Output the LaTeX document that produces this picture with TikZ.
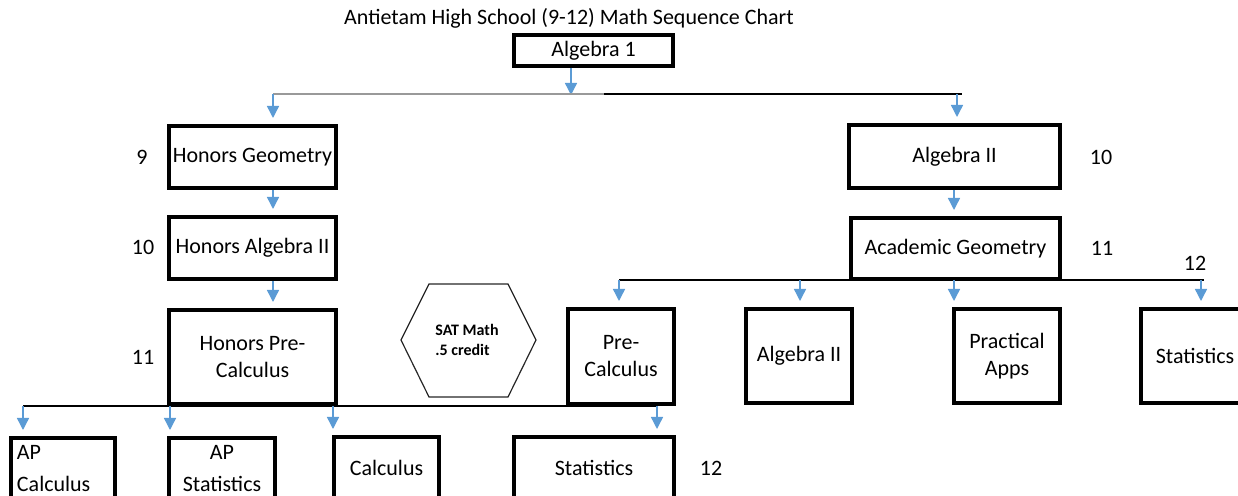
\documentclass[tikz,border=0pt]{standalone}
\usepackage{fontspec}
\setmainfont{Carlito}
\usetikzlibrary{arrows.meta}
\definecolor{arrblue}{HTML}{5B9BD5}
\begin{document}
\begin{tikzpicture}[x=0.5pt,y=-0.5pt,
  box/.style={draw,line width=2pt,inner sep=0pt,align=center,font=\fontsize{11}{13.5}\selectfont},
  lbl/.style={font=\fontsize{11}{13.5}\selectfont,inner sep=0pt},
  arr/.style={draw=arrblue,line width=0.7pt,-{Triangle[width=6pt,length=6pt]},shorten >=3pt},
  bus/.style={draw=black,line width=0.6pt}]
\useasboundingbox (0,0) rectangle (1238,496);

% title
\node[lbl] (title) at (569,18) {Antietam High School (9-12) Math Sequence Chart};

% boxes
\node[box,minimum width=79.5pt,minimum height=15.5pt] (alg1) at (593.5,50.5) {Algebra 1};
\node[box,minimum width=83.5pt,minimum height=31pt] (hg) at (252.5,157) {Honors Geometry};
\node[box,minimum width=83.5pt,minimum height=31pt] (hag) at (252.5,248) {Honors Algebra II};
\node[box,minimum width=83.5pt,minimum height=47pt] (hpc) at (252.5,357) {Honors Pre-\\Calculus};
\node[box,minimum width=105.5pt,minimum height=31.5pt] (alg2) at (954.5,156.5) {Algebra II};
\node[box,minimum width=104.5pt,minimum height=30.5pt] (ag) at (955.5,248.5) {Academic Geometry};
\node[box,minimum width=53pt,minimum height=47.5pt] (pc) at (621,356.5) {Pre-\\Calculus};
\node[box,minimum width=53pt,minimum height=47pt] (alg2b) at (799,356) {Algebra II};
\node[box,minimum width=53pt,minimum height=47pt] (pa) at (1007,356) {Practical\\Apps};
\node[box,minimum width=54pt,minimum height=47pt] (statR) at (1195,356) {Statistics};
\node[box,font=\fontsize{11}{16}\selectfont,align=left,text width=46pt,inner xsep=3pt,minimum height=31pt] (apc) at (63,469) {AP\\Calculus};
\node[box,font=\fontsize{11}{16}\selectfont,minimum width=53pt,minimum height=31pt] (aps) at (222,469) {AP\\Statistics};
\node[box,minimum width=52.5pt,minimum height=31pt] (calc) at (386.5,468) {Calculus};
\node[box,minimum width=80pt,minimum height=31pt] (statB) at (594,468) {Statistics};

% SAT hexagon
\draw[line width=0.6pt,draw=black!85] (401,340) -- (429,284) -- (508,284) -- (536,340) -- (508,397) -- (429,397) -- cycle;
\node[font=\bfseries\fontsize{8}{10}\selectfont,align=left,inner sep=0pt] (sat) at (467,340) {SAT Math\\.5 credit};

% grade labels
\node[lbl] (g9) at (142,157) {9};
\node[lbl] (g10a) at (143,247) {10};
\node[lbl] (g11a) at (143,357) {11};
\node[lbl] (g10b) at (1101,157) {10};
\node[lbl] (g11b) at (1102,248) {11};
\node[lbl] (g12a) at (1195,263) {12};
\node[lbl] (g12b) at (711,468) {12};

% connectors from Algebra 1
\coordinate (j0) at (571,95);
\coordinate (jL) at (273,94);
\coordinate (jR) at (957,94);
\coordinate (jM) at (604,94);
\coordinate (jE) at (962,94);
\draw[arr,shorten >=0pt] (alg1.south -| j0) -- (j0);
\draw[line width=0.9pt,draw=black!40] (jL) -- (jM);
\draw[bus] (jM) -- (jE);
\draw[arr] (jL) -- (hg.north -| jL);
\draw[arr] (jR) -- (alg2.north -| jR);

% left column
\coordinate (cL) at (273,0);
\draw[arr] (hg.south -| cL) -- (hag.north -| cL);
\draw[arr] (hag.south -| cL) -- (hpc.north -| cL);

% right column
\coordinate (cR) at (954,0);
\draw[arr] (alg2.south -| cR) -- (ag.north -| cR);

% bus under Academic Geometry
\coordinate (k1) at (619,280);
\coordinate (k2) at (800,280);
\coordinate (k3) at (954,280);
\coordinate (k4) at (1201,280);
\coordinate (kE) at (1204,280);
\draw[bus] (k1) -- (kE);
\draw[arr] (k1) -- (pc.north -| k1);
\draw[arr] (k2) -- (alg2b.north -| k2);
\draw[arr] (k3) -- (pa.north -| k3);
\draw[arr] (k4) -- (statR.north -| k4);

% bus under Honors Pre-Calculus / Pre-Calculus
\coordinate (m1) at (23,406);
\coordinate (m2) at (170,406);
\coordinate (m3) at (333,406);
\coordinate (m4) at (657,406);
\draw[bus] (m1) -- (m4);
\draw[arr] (m1) -- (apc.north -| m1);
\draw[arr] (m2) -- (aps.north -| m2);
\draw[arr] (m3) -- (calc.north -| m3);
\draw[arr] (m4) -- (statB.north -| m4);
\end{tikzpicture}
\end{document}
